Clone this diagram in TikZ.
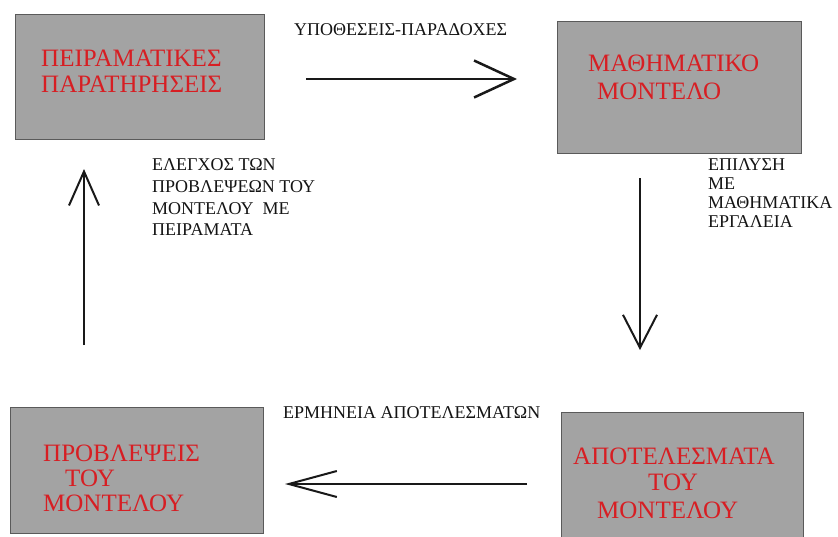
\documentclass[tikz,border=0pt]{standalone}
\usepackage{fontspec}
\setmainfont{Liberation Serif}
\usetikzlibrary{arrows.meta}
\definecolor{boxfill}{RGB}{163,163,163}
\definecolor{boxline}{RGB}{90,90,90}
\definecolor{redtxt}{RGB}{215,30,35}
\definecolor{lbltxt}{RGB}{20,20,20}
\begin{document}
\begin{tikzpicture}[x=1pt,y=-1pt,
  box/.style={draw=boxline,line width=1pt,fill=boxfill,rectangle,inner sep=0pt},
  redline/.style={text=redtxt,font=\fontsize{25}{27}\selectfont,anchor=base west,inner sep=0pt},
  lbl/.style={text=lbltxt,font=\fontsize{18}{20}\selectfont,anchor=base west,inner sep=0pt},
  conn/.style={line width=2pt,draw=black!90}]
\useasboundingbox (0,0) rectangle (838,536);
\clip (0,0) rectangle (838,536);
% boxes
\node[box,minimum width=249pt,minimum height=125pt] (obs) at (139.5,76.5) {};
\node[box,minimum width=244pt,minimum height=132pt] (model) at (679,87) {};
\node[box,minimum width=253pt,minimum height=126pt] (pred) at (136.5,470) {};
\node[box,minimum width=242pt,minimum height=134pt] (res) at (682,479) {};
% red texts
\node[redline] (obs1) at (41,66.5) {ΠΕΙΡΑΜΑΤΙΚΕΣ};
\node[redline] (obs2) at (41,92.5) {ΠΑΡΑΤΗΡΗΣΕΙΣ};
\node[redline] (mod1) at (588,71.7) {ΜΑΘΗΜΑΤΙΚΟ};
\node[redline] (mod2) at (597,99.3) {ΜΟΝΤΕΛΟ};
\node[redline] (pre1) at (43,461.7) {ΠΡΟΒΛΕΨΕΙΣ};
\node[redline] (pre2) at (65,486.7) {ΤΟΥ};
\node[redline] (pre3) at (43,511.7) {ΜΟΝΤΕΛΟΥ};
\node[redline] (res1) at (573,464) {ΑΠΟΤΕΛΕΣΜΑΤΑ};
\node[redline] (res2) at (648,490.7) {ΤΟΥ};
\node[redline] (res3) at (597,518) {ΜΟΝΤΕΛΟΥ};
% labels
\node[lbl] (hyp) at (294,35) {ΥΠΟΘΕΣΕΙΣ-ΠΑΡΑΔΟΧΕΣ};
\node[lbl] (sol1) at (708,170.7) {ΕΠΙΛΥΣΗ};
\node[lbl] (sol2) at (708,189.3) {ΜΕ};
\node[lbl] (sol3) at (708,208.3) {ΜΑΘΗΜΑΤΙΚΑ};
\node[lbl] (sol4) at (708,227.3) {ΕΡΓΑΛΕΙΑ};
\node[lbl] (int) at (283,418.3) {ΕΡΜΗΝΕΙΑ ΑΠΟΤΕΛΕΣΜΑΤΩΝ};
\node[lbl] (chk1) at (152,170.7) {ΕΛΕΓΧΟΣ ΤΩΝ};
\node[lbl] (chk2) at (152,192.7) {ΠΡΟΒΛΕΨΕΩΝ ΤΟΥ};
\node[lbl] (chk3) at (152,214.3) {ΜΟΝΤΕΛΟΥ\ \ ΜΕ};
\node[lbl] (chk4) at (152,235.5) {ΠΕΙΡΑΜΑΤΑ};
% connectors
\coordinate (rs) at (306,79); \coordinate (re) at (517,79);
\coordinate (ds) at (640,178); \coordinate (de) at (640,350);
\coordinate (ls) at (527,484); \coordinate (le) at (285,484);
\coordinate (us) at (84,345); \coordinate (ue) at (84,169);
\draw[conn,line width=2.5pt,-{Straight Barb[length=40pt,width=37pt]}] (rs) -- (re);
\draw[conn,-{Straight Barb[length=33pt,width=34pt]}] (ds) -- (de);
\draw[conn,-{Straight Barb[length=48pt,width=26pt]}] (ls) -- (le);
\draw[conn,-{Straight Barb[length=34pt,width=30pt]}] (us) -- (ue);
\end{tikzpicture}
\end{document}
